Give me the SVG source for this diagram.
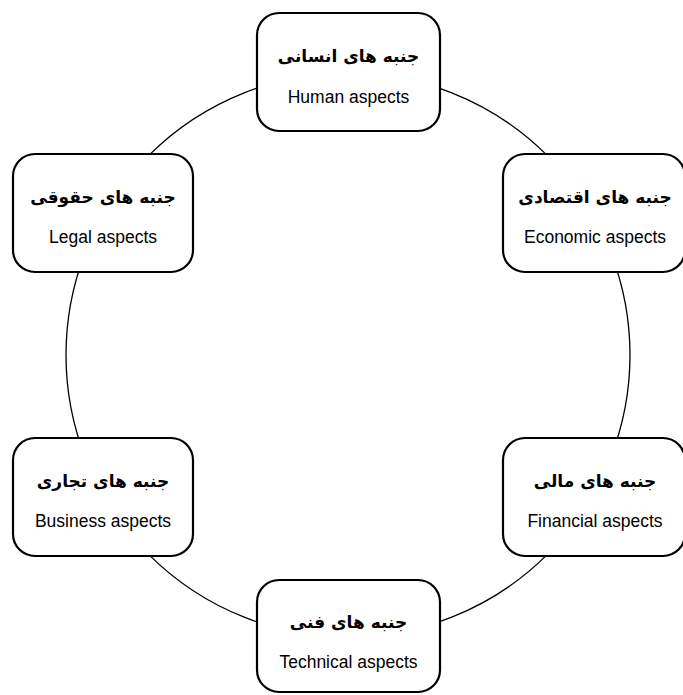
<svg xmlns="http://www.w3.org/2000/svg" width="683" height="695" viewBox="0 0 683 695">
  <style>
    .ring { fill: none; stroke: #000; stroke-width: 1.3; }
    .box { fill: #fff; stroke: #000; stroke-width: 2.2; }
    .fa { font-family: "DejaVu Sans", "Noto Sans", sans-serif; font-weight: bold; font-size: 17px; fill: #000; text-anchor: middle; direction: rtl; }
    .en { font-family: "Liberation Sans", Arial, sans-serif; font-size: 17.5px; fill: #000; text-anchor: middle; }
  </style>
  <rect width="683" height="695" fill="#fff"/>

  <!-- ring linking the six aspects -->
  <g id="connectors">
    <circle class="ring" cx="348" cy="355" r="282"/>
  </g>

  <g id="human">
    <rect class="box" x="257" y="13" width="183" height="118" rx="22"/>
    <text class="fa" x="348.5" y="62">جنبه های انسانی</text>
    <text class="en" x="348.5" y="103">Human aspects</text>
  </g>

  <g id="economic">
    <rect class="box" x="503" y="154" width="182" height="118" rx="22"/>
    <text class="fa" x="595" y="203">جنبه های اقتصادی</text>
    <text class="en" x="595" y="243">Economic aspects</text>
  </g>

  <g id="legal">
    <rect class="box" x="13" y="154" width="180" height="118" rx="22"/>
    <text class="fa" x="103" y="203">جنبه های حقوقی</text>
    <text class="en" x="103" y="243">Legal aspects</text>
  </g>

  <g id="business">
    <rect class="box" x="13" y="438" width="180" height="118" rx="22"/>
    <text class="fa" x="103" y="487">جنبه های تجاری</text>
    <text class="en" x="103" y="527">Business aspects</text>
  </g>

  <g id="financial">
    <rect class="box" x="503" y="438" width="182" height="118" rx="22"/>
    <text class="fa" x="595" y="487">جنبه های مالی</text>
    <text class="en" x="595" y="527">Financial aspects</text>
  </g>

  <g id="technical">
    <rect class="box" x="257" y="580" width="183" height="112" rx="22"/>
    <text class="fa" x="348.5" y="628">جنبه های فنی</text>
    <text class="en" x="348.5" y="668">Technical aspects</text>
  </g>
</svg>
